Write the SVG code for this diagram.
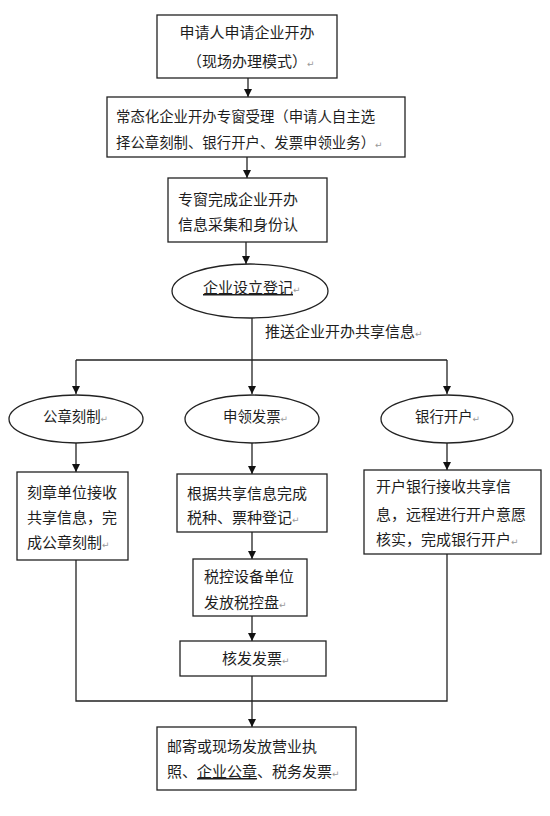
<svg xmlns="http://www.w3.org/2000/svg" width="550" height="816" viewBox="0 0 550 816">
<style>
.b{fill:#fff;stroke:#222;stroke-width:1.3}
.t{font-family:"Noto Sans CJK SC","Noto Sans CJK JP",sans-serif;font-size:15px;fill:#1e1e1e}
.s{font-size:14.4px}
.p{font-family:"DejaVu Sans",sans-serif;font-size:9px;fill:#999}
.c{fill:none;stroke:#222;stroke-width:1.3}
.u{text-decoration:underline}
</style>
<defs>
<marker id="a" viewBox="0 0 10 10" refX="10" refY="5" markerWidth="8" markerHeight="8" markerUnits="userSpaceOnUse" orient="auto">
<path d="M0,0L10,5L0,10z" fill="#111"/>
</marker>
</defs>
<rect width="550" height="816" fill="#fff"/>
<g id="connectors">
<path class="c" d="M248,78V97" marker-end="url(#a)"/>
<path class="c" d="M247,157V178" marker-end="url(#a)"/>
<path class="c" d="M246,242V264" marker-end="url(#a)"/>
<path class="c" d="M252,317V360"/>
<path class="c" d="M76,360H447"/>
<path class="c" d="M76,360V394" marker-end="url(#a)"/>
<path class="c" d="M252,360V394" marker-end="url(#a)"/>
<path class="c" d="M447,360V394" marker-end="url(#a)"/>
<path class="c" d="M76,442V472" marker-end="url(#a)"/>
<path class="c" d="M252,442V474" marker-end="url(#a)"/>
<path class="c" d="M447,442V470" marker-end="url(#a)"/>
<path class="c" d="M252,532V559" marker-end="url(#a)"/>
<path class="c" d="M252,616V641" marker-end="url(#a)"/>
<path class="c" d="M76,560V701H447V554"/>
<path class="c" d="M252,676V727" marker-end="url(#a)"/>
<text class="t" x="265" y="337">推送企业开办共享信息<tspan class="p">↵</tspan></text>
</g>
<g id="n1">
<rect class="b" x="157" y="15" width="180" height="63"/>
<text class="t" x="247" y="38" text-anchor="middle">申请人申请企业开办</text>
<text class="t" x="187" y="67">（现场办理模式）<tspan class="p">↵</tspan></text>
</g>
<g id="n2">
<rect class="b" x="107" y="97" width="298" height="60"/>
<text class="t s" x="116" y="122">常态化企业开办专窗受理（申请人自主选</text>
<text class="t s" x="116" y="148">择公章刻制、银行开户、发票申领业务）<tspan class="p">↵</tspan></text>
</g>
<g id="n3">
<rect class="b" x="168" y="178" width="159" height="64"/>
<text class="t" x="178" y="205">专窗完成企业开办</text>
<text class="t" x="178" y="230">信息采集和身份认</text>
</g>
<g id="n4">
<ellipse class="b" cx="250" cy="291" rx="78" ry="27"/>
<text class="t" x="203" y="293"><tspan class="u">企业设立登记</tspan><tspan class="p">↵</tspan></text>
</g>
<g id="n5">
<ellipse class="b" cx="76" cy="419" rx="67" ry="24"/>
<text class="t s" x="43" y="422">公章刻制<tspan class="p">↵</tspan></text>
</g>
<g id="n6">
<ellipse class="b" cx="252" cy="419" rx="67" ry="24"/>
<text class="t s" x="223" y="422">申领发票<tspan class="p">↵</tspan></text>
</g>
<g id="n7">
<ellipse class="b" cx="447" cy="419" rx="66" ry="24"/>
<text class="t s" x="415" y="422">银行开户<tspan class="p">↵</tspan></text>
</g>
<g id="n8">
<rect class="b" x="17" y="472" width="111" height="88"/>
<text class="t" x="27" y="498">刻章单位接收</text>
<text class="t" x="27" y="523">共享信息，完</text>
<text class="t" x="27" y="548">成公章刻制<tspan class="p">↵</tspan></text>
</g>
<g id="n9">
<rect class="b" x="177" y="474" width="150" height="58"/>
<text class="t" x="187" y="499">根据共享信息完成</text>
<text class="t" x="187" y="523">税种、票种登记<tspan class="p">↵</tspan></text>
</g>
<g id="n10">
<rect class="b" x="364" y="470" width="177" height="84"/>
<text class="t" x="376" y="492">开户银行接收共享信</text>
<text class="t" x="376" y="520">息，远程进行开户意愿</text>
<text class="t" x="376" y="545">核实，完成银行开户<tspan class="p">↵</tspan></text>
</g>
<g id="n11">
<rect class="b" x="193" y="559" width="114" height="57"/>
<text class="t" x="204" y="582">税控设备单位</text>
<text class="t" x="204" y="608">发放税控盘<tspan class="p">↵</tspan></text>
</g>
<g id="n12">
<rect class="b" x="180" y="641" width="146" height="35"/>
<text class="t" x="222" y="664">核发发票<tspan class="p">↵</tspan></text>
</g>
<g id="n13">
<rect class="b" x="157" y="727" width="199" height="63"/>
<text class="t" x="167" y="752">邮寄或现场发放营业执</text>
<text class="t" x="167" y="777">照、<tspan class="u">企业公章</tspan>、税务发票<tspan class="p">↵</tspan></text>
</g>
</svg>
